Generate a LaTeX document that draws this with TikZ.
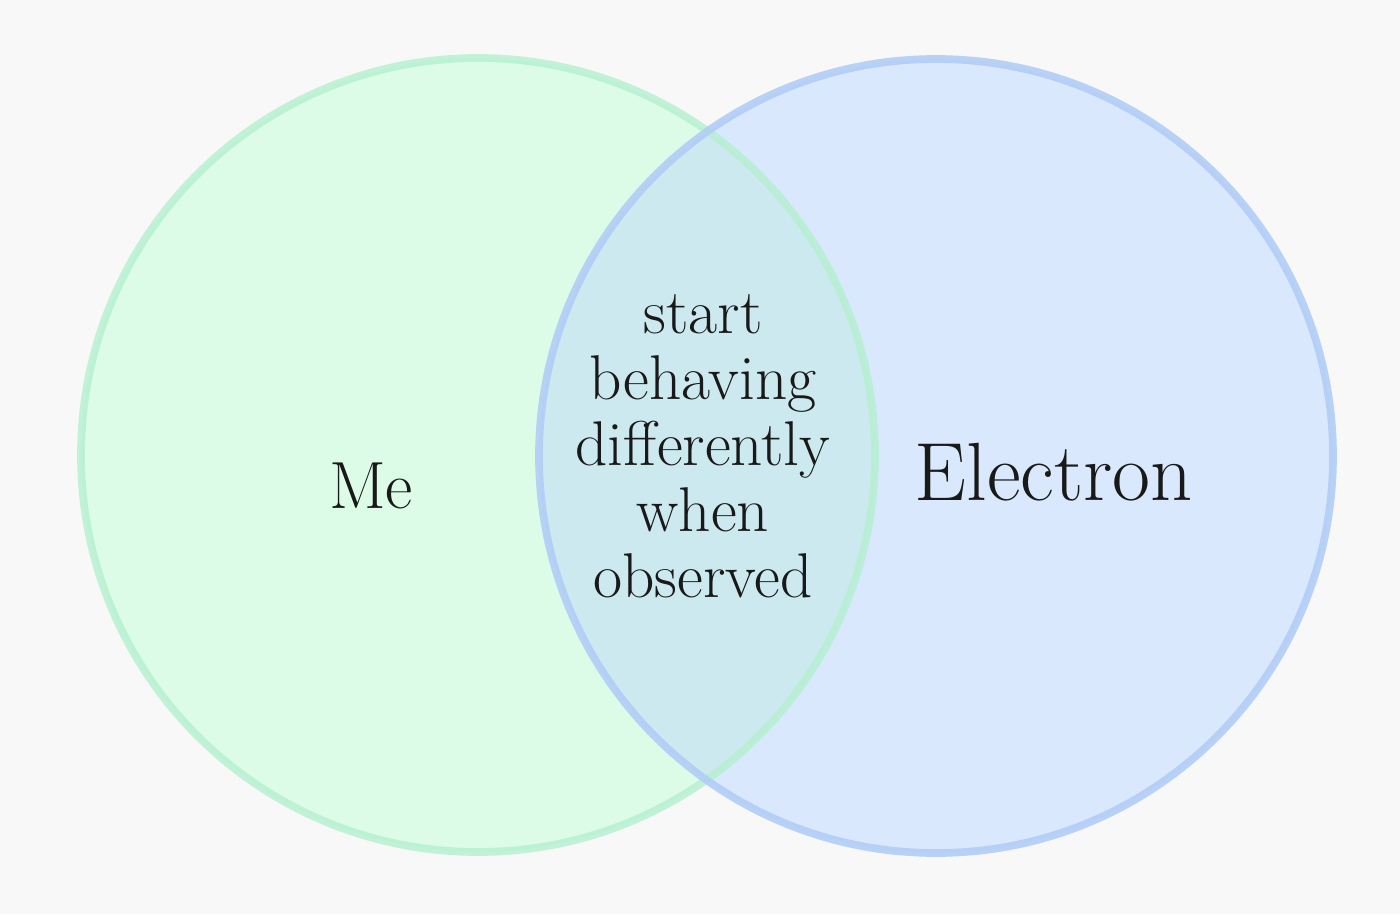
\documentclass[tikz,border=0pt]{standalone}
\usepackage{tikz}
\definecolor{bgcol}{HTML}{F8F8F8}
\definecolor{mefill}{HTML}{DCFCE8}
\definecolor{meline}{HTML}{B4F0CF}
\definecolor{elfill}{HTML}{D9E8FC}
\definecolor{elline}{HTML}{B2CDF6}
\definecolor{bothfill}{HTML}{CDE9F0}
\begin{document}
\begin{tikzpicture}[
    ring/.style={line width=2.2pt},
    label/.style={inner sep=0pt, text=black!90}
  ]
      \fill[bgcol] (0,0) rectangle (14,9.14);
      \useasboundingbox (0,0) rectangle (14,9.14);
      \fill[mefill] (4.78,4.59) circle (3.97);
      \fill[elfill] (9.36,4.58) circle (3.97);
      \begin{scope}
        \clip (4.78,4.59) circle (3.97);
        \fill[bothfill] (9.36,4.58) circle (3.97);
      \end{scope}
      \draw[ring, meline, draw opacity=0.8] (4.78,4.59) circle (3.97);
      \draw[ring, elline, draw opacity=0.9] (9.36,4.58) circle (3.97);
      \node[label, anchor=base, font=\fontsize{19}{22}\selectfont] (me) at (3.71,4.06) {Me};
      \node[label, anchor=base, font=\fontsize{23.5}{28}\selectfont] (electron) at (10.54,4.14) {Electron};
      \node[label, align=center, font=\fontsize{18}{18.8}\selectfont] (both) at (7.03,4.68)
        {start\\behaving\\differently\\when\\observed};
    \end{tikzpicture}
\end{document}
